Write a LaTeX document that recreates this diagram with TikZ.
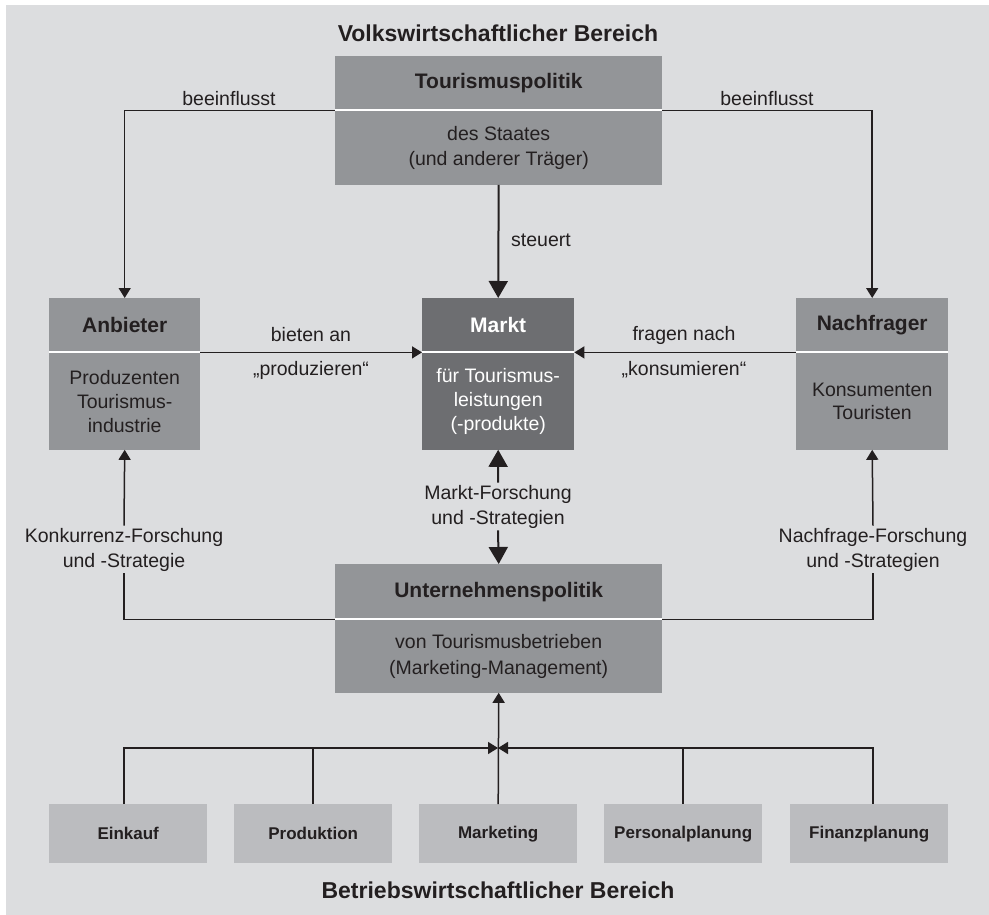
\documentclass[tikz,border=0pt]{standalone}
\usepackage{fontspec}
\setmainfont{Liberation Sans}
\usetikzlibrary{arrows.meta,positioning}
\definecolor{bgc}{RGB}{220,221,223}
\definecolor{midg}{RGB}{147,149,152}
\definecolor{darkg}{RGB}{109,110,113}
\definecolor{lightg}{RGB}{187,188,191}
\definecolor{ink}{RGB}{35,31,32}
\tikzset{
  hdr/.style={fill=midg, inner sep=0pt, anchor=north west, text=ink,
    font=\fontsize{21}{25}\selectfont\bfseries},
  bdy/.style={fill=midg, inner sep=0pt, anchor=north, text=ink, align=center,
    font=\fontsize{19.5}{25}\selectfont},
  small/.style={fill=lightg, inner sep=0pt, minimum width=158pt, minimum height=59pt,
    anchor=north west, text=ink, font=\fontsize{17}{20}\selectfont\bfseries},
  ttl/.style={text=ink, font=\fontsize{23}{27}\selectfont\bfseries},
  lbl/.style={text=ink, align=center, inner sep=2pt, font=\fontsize{19.5}{25}\selectfont},
  conn/.style={draw=ink, line width=1.5pt},
  arrS/.style={conn, -{Triangle[length=10pt,width=12pt]}},
  arrL/.style={draw=ink, line width=2pt, -{Triangle[length=17pt,width=19pt]}},
  sepline/.style={draw=white, line width=2pt},
}
\begin{document}
\begin{tikzpicture}[x=1pt,y=-1pt]
\useasboundingbox (0,0) rectangle (989,915);
\fill[bgc] (6,5) rectangle (989,915);

% titles
\node[ttl] (t1) at (498,33) {Volkswirtschaftlicher Bereich};
\node[ttl] (t2) at (498,890) {Betriebswirtschaftlicher Bereich};

% Tourismuspolitik
\node[hdr, minimum width=327pt, minimum height=54pt] (tph) at (335,56) {Tourismuspolitik};
\node[bdy, minimum width=327pt, minimum height=74pt] (tpb) at (tph.south) {des Staates\\(und anderer Träger)};

% Anbieter
\node[hdr, minimum width=151pt, minimum height=54pt] (anh) at (49,298) {Anbieter};
\node[bdy, minimum width=151pt, minimum height=97pt, font=\fontsize{19.5}{24}\selectfont] (anb) at (anh.south) {Produzenten\\Tourismus-\\industrie};

% Markt
\node[hdr, fill=darkg, text=white, minimum width=152pt, minimum height=54pt] (mah) at (422,298) {Markt};
\node[bdy, fill=darkg, text=white, minimum width=152pt, minimum height=97pt, font=\fontsize{19.5}{24}\selectfont] (mab) at (mah.south) {für Tourismus-\\leistungen\\(-produkte)};

% Nachfrager
\node[hdr, minimum width=152pt, minimum height=54pt] (nah) at (796,298) {Nachfrager};
\node[bdy, minimum width=152pt, minimum height=97pt, font=\fontsize{19.5}{23}\selectfont] (nab) at (nah.south) {Konsumenten\\Touristen};

% Unternehmenspolitik
\node[hdr, minimum width=327pt, minimum height=55pt] (uph) at (335,564) {Unternehmenspolitik};
\node[bdy, minimum width=327pt, minimum height=73pt, font=\fontsize{19.5}{26}\selectfont] (upb) at (uph.south) {von Tourismusbetrieben\\(Marketing-Management)};

% bottom boxes
\node[small] (ein) at (49,804) {Einkauf};
\node[small] (pro) at (234,804) {Produktion};
\node[small] (mkt) at (419,804) {Marketing};
\node[small] (per) at (604,804) {Personalplanung};
\node[small] (fin) at (790,804) {Finanzplanung};

% labels
\node[lbl] (bl) at (229,99) {beeinflusst};
\node[lbl] (br) at (767,99) {beeinflusst};
\node[lbl, anchor=west, inner sep=0pt] (st) at (511,240) {steuert};
\node[lbl] (ba) at (311,335) {bieten an};
\node[lbl] (pz) at (311,370) {„produzieren“};
\node[lbl] (fn) at (684,335) {fragen nach};
\node[lbl] (kz) at (684,370) {„konsumieren“};
\node[lbl] (mf) at (498,506.5) {Markt-Forschung\\und -Strategien};
\node[lbl] (kf) at (124,549.5) {Konkurrenz-Forschung\\und -Strategie};
\node[lbl] (nf) at (873,549.5) {Nachfrage-Forschung\\und -Strategien};

% junction coordinates
\coordinate (jl) at (124,748);
\coordinate (jc) at (498,748);
\coordinate (jr) at (873,748);

% connectors top
\draw[arrS] (tph.south west) -| (anh.north);
\draw[arrS] (tph.south east) -| (nah.north);
\draw[arrL] (tpb.south) -- (mah.north);
\draw[arrS] (anh.south east) -- (mah.south west);
\draw[arrS] (nah.south west) -- (mah.south east);

% research
\draw[arrL] (mf.north) -- (mab.south);
\draw[arrL] (mf.south) -- (uph.north);
\draw[arrS] (kf.north) -- (anb.south);
\draw[conn] (uph.south west) -| (kf.south);
\draw[arrS] (nf.north) -- (nab.south);
\draw[conn] (uph.south east) -| (nf.south);

% bottom
\draw[arrS] (ein.north -| jl) |- (jc);
\draw[arrS] (fin.north -| jr) |- (jc);
\draw[conn] (pro.north) -- (pro.north |- jc);
\draw[conn] (per.north) -- (per.north |- jc);
\draw[arrS] (mkt.north) -- (upb.south);

% separators
\draw[sepline] (tph.south west) -- (tph.south east);
\draw[sepline] (anh.south west) -- (anh.south east);
\draw[sepline] (mah.south west) -- (mah.south east);
\draw[sepline] (nah.south west) -- (nah.south east);
\draw[sepline] (uph.south west) -- (uph.south east);
\end{tikzpicture}
\end{document}
